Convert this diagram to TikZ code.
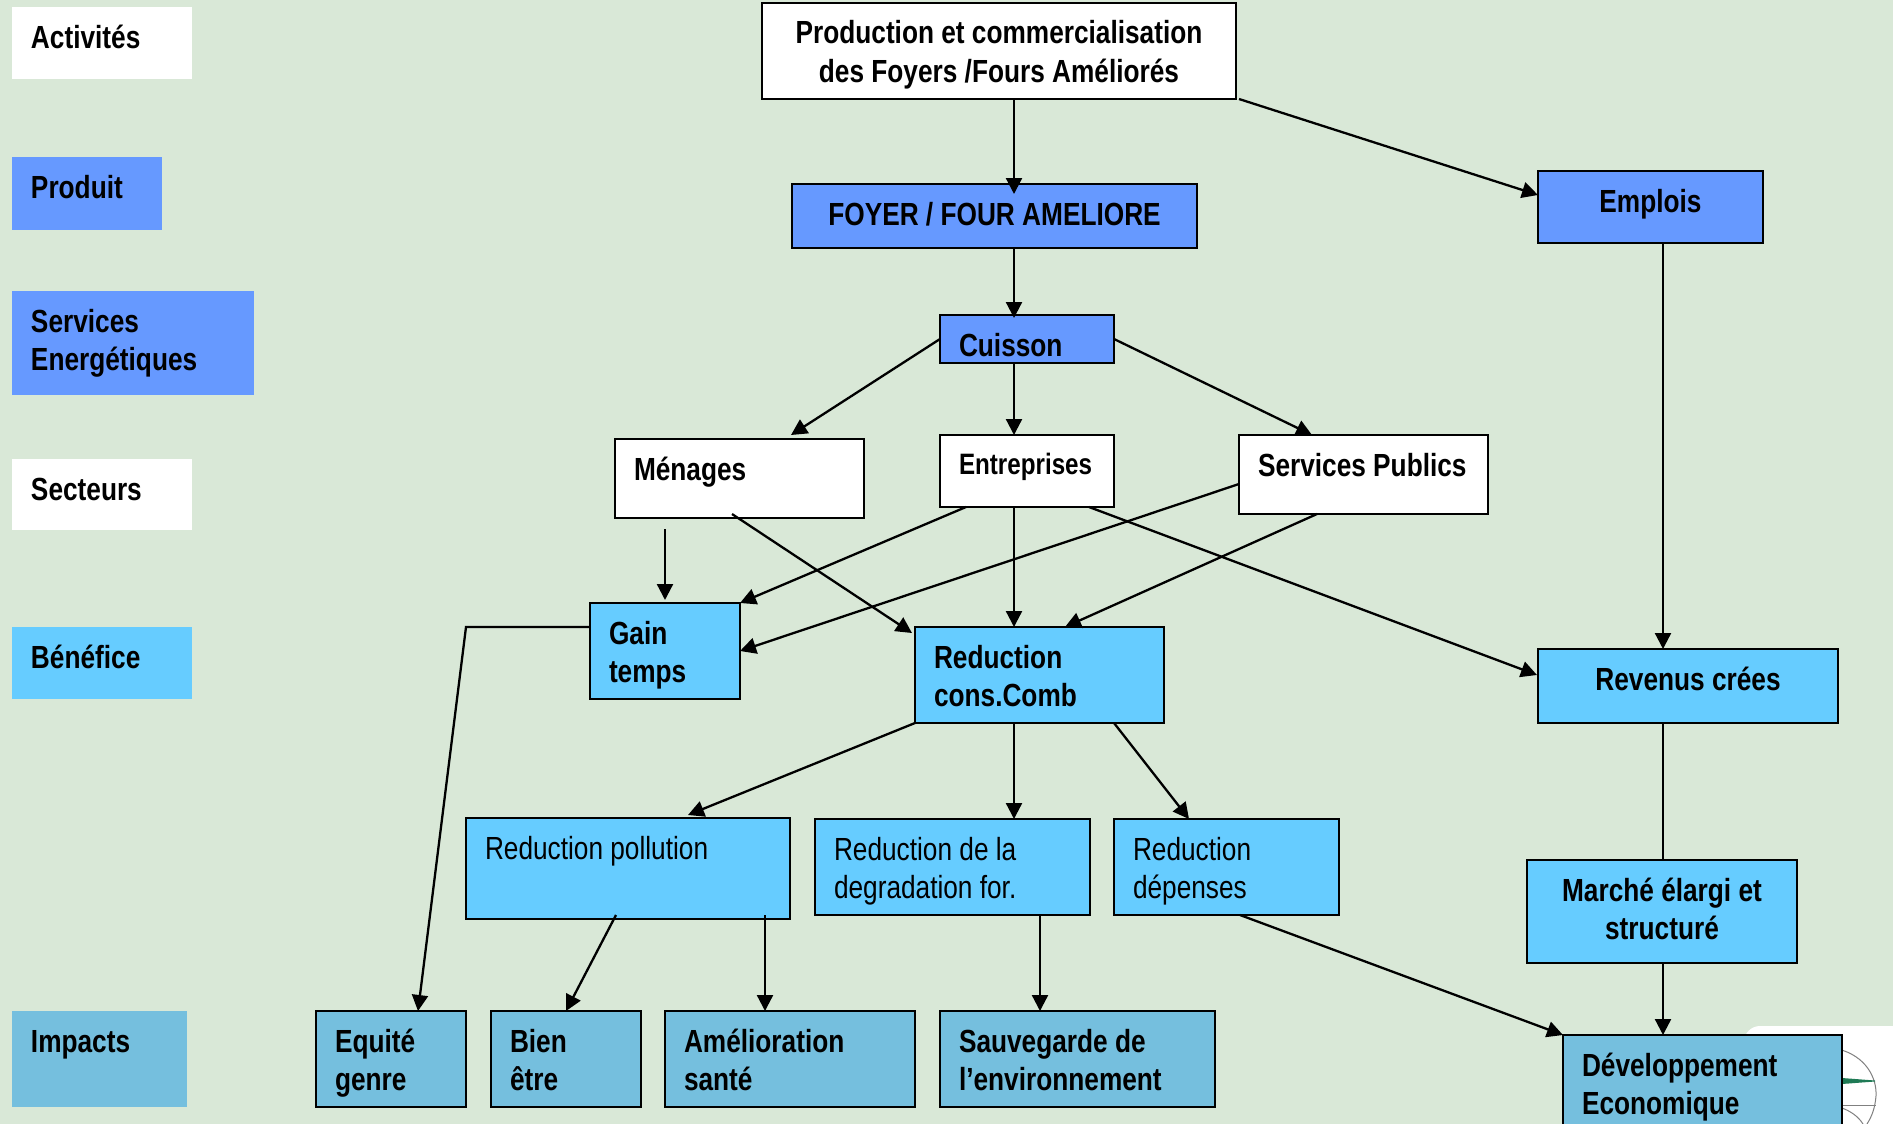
\documentclass[tikz,border=0pt]{standalone}
\usepackage{fontspec}
\usetikzlibrary{arrows.meta}
\setmainfont{Liberation Sans}[FakeStretch=0.82]
\definecolor{bgc}{HTML}{D9E8D7}
\definecolor{blu}{HTML}{6699FF}
\definecolor{sky}{HTML}{66CCFF}
\definecolor{teal}{HTML}{75BFDE}
\definecolor{logog}{HTML}{1F7A55}
\newcommand{\bx}[9]{% name,x,y,w,h,style,dy,align,text
  \node[#6,anchor=north west,inner sep=0pt,outer sep=0pt] (#1) at (#2,#3)
  {\begin{minipage}[c][#5pt][t]{#4pt}#8\rule{0pt}{#7pt}#9\end{minipage}};}
\newcommand{\lft}{\leftskip=19pt\rightskip=0pt plus 1fil\parindent=0pt\parfillskip=0pt plus 1fil\relax}
\newcommand{\ctr}{\leftskip=0pt plus 1fil\rightskip=0pt plus 1fil\parindent=0pt\parfillskip=0pt\relax}
\tikzset{
 x=1pt,y=-1pt,
 flat/.style={fill=#1},
 boxed/.style={draw=black,line width=2pt,fill=#1},
 arr/.style={draw=black,line width=2.3pt,-{Triangle[length=16pt,width=16pt]}},
 pln/.style={draw=black,line width=2.3pt},
}
\begin{document}
\begin{tikzpicture}
\useasboundingbox (0,0) rectangle (1893,1124);
\fill[bgc] (0,0) rectangle (1893,1124);
% logo behind
\fill[white,rounded corners=16pt] (1744,1026) rectangle (1920,1160);
\draw[gray,line width=1pt] (1838,1049) .. controls (1866,1056) and (1877,1078) .. (1876,1096) .. controls (1875,1108) and (1872,1116) .. (1867,1124);
\draw[gray,line width=1pt] (1842,1105) -- (1876,1105);
\draw[gray,line width=1pt] (1842,1108) .. controls (1850,1111) and (1858,1116) .. (1863,1124);
\fill[logog] (1842,1078) -- (1875,1080.5) -- (1875,1081.5) -- (1842,1084) -- cycle;
\bfseries\fontsize{32}{38.7}\selectfont
% left legend
\bx{la}{12}{7}{180}{72}{flat=white}{41}{\lft}{Activités}
\bx{lb}{12}{157}{150}{73}{flat=blu}{41}{\lft}{Produit}
\bx{lc}{12}{291}{242}{104}{flat=blu}{41}{\lft}{Services\par Energétiques}
\bx{ld}{12}{459}{180}{71}{flat=white}{41}{\lft}{Secteurs}
\bx{le}{12}{627}{180}{72}{flat=sky}{41}{\lft}{Bénéfice}
\bx{lf}{12}{1011}{175}{96}{flat=teal}{41}{\lft}{Impacts}
% main
\bx{prod}{762}{3}{474}{96}{boxed=white}{41}{\ctr}{Production et commercialisation\par des Foyers /Fours Améliorés}
\bx{foyer}{792}{184}{405}{64}{boxed=blu}{41}{\ctr}{FOYER / FOUR AMELIORE}
\bx{empl}{1538}{171}{225}{72}{boxed=blu}{41}{\ctr}{Emplois}
\bx{cuis}{940}{315}{174}{48}{boxed=blu}{41}{\lft}{Cuisson}
\bx{men}{615}{439}{249}{79}{boxed=white}{41}{\lft}{Ménages}
\bx{ent}{940}{435}{174}{72}{boxed=white}{39}{\lft}{\fontsize{29.5}{39}\selectfont Entreprises}
\bx{serv}{1239}{435}{249}{79}{boxed=white}{41}{\lft}{Services Publics}
\bx{gain}{590}{603}{150}{96}{boxed=sky}{41}{\lft}{Gain\par temps}
\bx{redc}{915}{627}{249}{96}{boxed=sky}{41}{\lft}{Reduction\par cons.Comb}
\bx{rev}{1538}{649}{300}{74}{boxed=sky}{41}{\ctr}{Revenus crées}
\bx{mar}{1527}{860}{270}{103}{boxed=sky}{41}{\ctr}{Marché élargi et\par structuré}
\bx{poll}{466}{818}{324}{101}{boxed=sky}{41}{\lft\mdseries}{Reduction pollution}
\bx{degr}{815}{819}{275}{96}{boxed=sky}{41}{\lft\mdseries}{Reduction de la\par degradation for.}
\bx{dep}{1114}{819}{225}{96}{boxed=sky}{41}{\lft\mdseries}{Reduction\par dépenses}
\bx{equi}{316}{1011}{150}{96}{boxed=teal}{41}{\lft}{Equité\par genre}
\bx{bien}{491}{1011}{150}{96}{boxed=teal}{41}{\lft}{Bien\par être}
\bx{amel}{665}{1011}{250}{96}{boxed=teal}{41}{\lft}{Amélioration\par santé}
\bx{sauv}{940}{1011}{275}{96}{boxed=teal}{41}{\lft}{Sauvegarde de\par l’environnement}
\bx{dev}{1563}{1035}{279}{100}{boxed=teal}{41}{\lft}{Développement\par Economique}
% connectors
\draw[arr] ([xshift=252pt]prod.south west) -- ([xshift=222pt,yshift=-10pt]foyer.north west);
\draw[arr] ([xshift=3pt]prod.south east) -- ([yshift=-24pt]empl.north west);
\draw[arr] ([xshift=222pt]foyer.south west) -- ([xshift=74pt,yshift=-3pt]cuis.north west);
\draw[arr] ([yshift=-24pt]cuis.north west) -- ([xshift=176pt,yshift=4pt]men.north west);
\draw[arr] ([xshift=74pt]cuis.south west) -- ([xshift=74pt]ent.north west);
\draw[arr] ([yshift=-24pt]cuis.north east) -- ([xshift=73pt]serv.north west);
\draw[arr] ([xshift=125pt]empl.south west) -- ([xshift=125pt]rev.north west);
\draw[arr] ([xshift=50pt,yshift=-11pt]men.south west) -- ([xshift=75pt,yshift=3pt]gain.north west);
\draw[arr] ([xshift=117pt,yshift=4pt]men.south west) -- ([xshift=-3pt,yshift=-6pt]redc.north west);
\draw[arr] ([xshift=26pt]ent.south west) -- (gain.north east);
\draw[arr] ([yshift=-49pt]serv.north west) -- ([yshift=-48pt]gain.north east);
\draw[arr] ([xshift=74pt]ent.south west) -- ([xshift=99pt]redc.north west);
\draw[arr] ([xshift=78pt]serv.south west) -- ([xshift=150pt]redc.north west);
\draw[arr] ([xshift=149pt]ent.south west) -- ([xshift=-1pt,yshift=-26pt]rev.north west);
\coordinate (gl) at (466,627);
\draw[arr] ([yshift=-24pt]gain.north west) -- (gl) -- ([xshift=102pt]equi.north west);
\draw[arr] (redc.south west) -- ([xshift=222pt,yshift=3pt]poll.north west);
\draw[arr] ([xshift=99pt]redc.south west) -- ([xshift=199pt]degr.north west);
\draw[arr] ([xshift=199pt]redc.south west) -- ([xshift=75pt]dep.north west);
\draw[arr] ([xshift=150pt,yshift=4pt]poll.south west) -- ([xshift=75pt]bien.north west);
\draw[arr] ([xshift=299pt,yshift=4pt]poll.south west) -- ([xshift=100pt]amel.north west);
\draw[arr] ([xshift=225pt]degr.south west) -- ([xshift=100pt]sauv.north west);
\draw[arr] ([xshift=126pt]dep.south west) -- (dev.north west);
\draw[pln] ([xshift=125pt]rev.south west) -- ([xshift=136pt]mar.north west);
\draw[arr] ([xshift=136pt]mar.south west) -- ([xshift=100pt]dev.north west);
\end{tikzpicture}
\end{document}
